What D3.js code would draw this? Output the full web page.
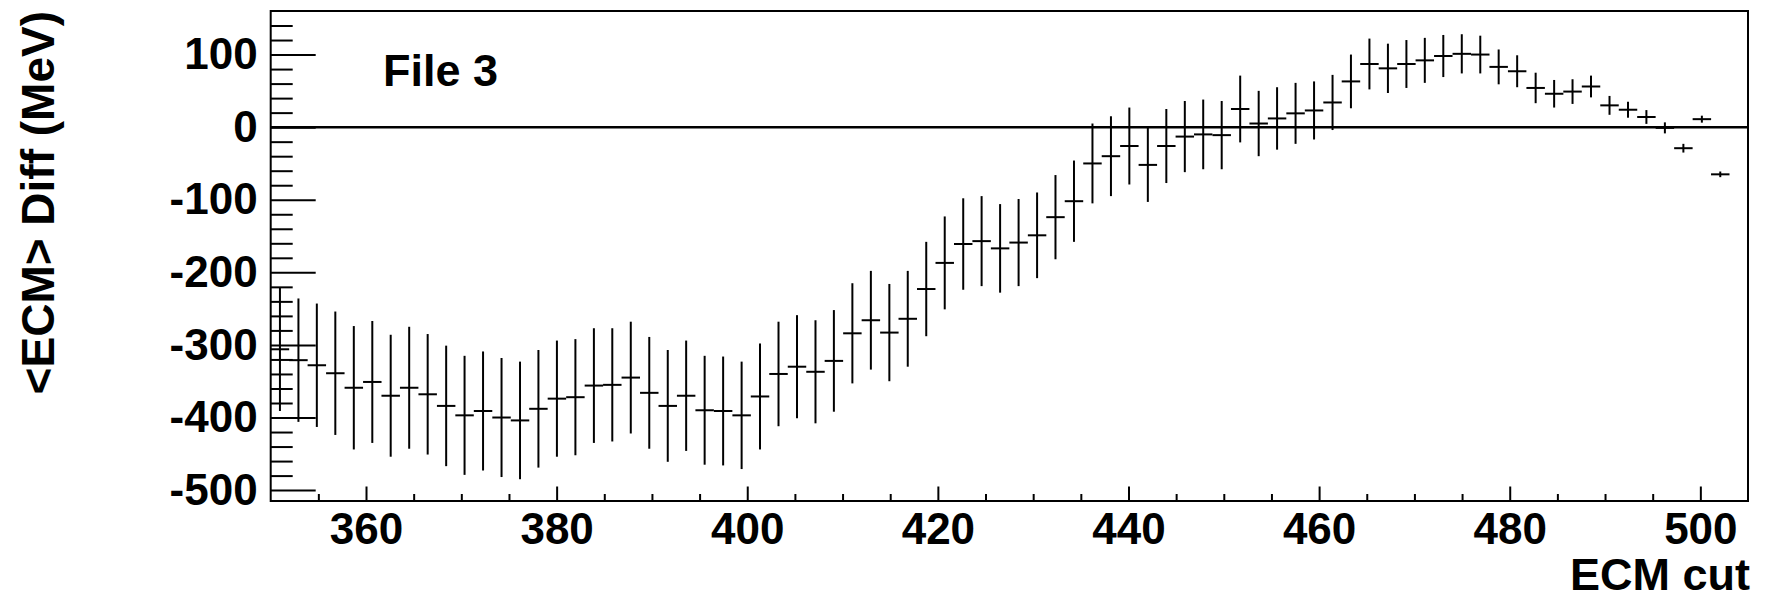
<!DOCTYPE html>
<html>
<head>
<meta charset="utf-8">
<script src="https://cdn.jsdelivr.net/npm/d3@7"></script>
<style>
  html, body { margin: 0; padding: 0; background: #fff; }
  svg { display: block; }
  text { font-family: "Liberation Sans", Arial, Helvetica, sans-serif; font-weight: bold; fill: #000; }
</style>
</head>
<body>
<svg id="chart" width="1765" height="600"></svg>
<script>
// Histogram binning: 80 bins of width 1.9375 between 350 and 505
const binWidth = 1.9375;

// Bin centres of the ECM cut (filled bins only)
const ecmCut = [
  350.97, 352.91, 354.84, 356.78, 358.72, 360.66, 362.59, 364.53, 366.47, 368.41,
  370.34, 372.28, 374.22, 376.16, 378.09, 380.03, 381.97, 383.91, 385.84, 387.78,
  389.72, 391.66, 393.59, 395.53, 397.47, 399.41, 401.34, 403.28, 405.22, 407.16,
  409.09, 411.03, 412.97, 414.91, 416.84, 418.78, 420.72, 422.66, 424.59, 426.53,
  428.47, 430.41, 432.34, 434.28, 436.22, 438.16, 440.09, 442.03, 443.97, 445.91,
  447.84, 449.78, 451.72, 453.66, 455.59, 457.53, 459.47, 461.41, 463.34, 465.28,
  467.22, 469.16, 471.09, 473.03, 474.97, 476.91, 478.84, 480.78, 482.72, 484.66,
  486.59, 488.53, 490.47, 492.41, 494.34, 496.28, 498.22, 500.16, 502.09
];

// Mean ECM difference per bin (MeV)
const meanDiff = [
  -306, -321, -328, -339, -359, -351, -370, -359, -368, -384,
  -397, -391, -400, -404, -388, -374, -372, -356, -355, -345,
  -366, -384, -370, -390, -391, -397, -371, -340, -330, -337,
  -322, -284, -266, -283, -264, -223, -187, -161, -157, -167,
  -159, -149, -124, -102, -50, -40, -26, -52, -26, -13,
  -10, -11, 25, 5, 12, 19, 23, 34, 63, 87,
  81, 87, 92, 98, 101, 100, 83, 77, 54, 46,
  49, 56, 30, 24, 14, -1, -29, 11, -65
];

// Uncertainty on the mean per bin (MeV)
const diffErr = [
  85, 85, 85, 85, 85, 84, 84, 84, 83, 83,
  82, 82, 82, 81, 81, 80, 80, 79, 78, 77,
  77, 77, 76, 75, 75, 74, 73, 72, 71, 71,
  70, 69, 68, 67, 66, 65, 64, 63, 62, 61,
  60, 59, 58, 56, 55, 55, 53, 51, 51, 49,
  48, 47, 46, 45, 43, 42, 40, 38, 37, 35,
  34, 33, 31, 29, 27, 26, 24, 22, 21, 19,
  17, 15, 13, 11, 9.5, 7.6, 6, 4.8, 3.9
];

// Axis ranges and tick values
const xRange = [350, 505];
const yRange = [-515, 160];
const xMajorTicks = [360, 380, 400, 420, 440, 460, 480, 500];
const xMinorTicks = d3.range(355, 505, 5).filter(v => !xMajorTicks.includes(v));
const yMajorTicks = [-500, -400, -300, -200, -100, 0, 100];
const yMinorTicks = d3.range(-500, 160, 20).filter(v => !yMajorTicks.includes(v));

const xTitle = "ECM cut";
const yTitle = "<ECM> Diff (MeV)";
const label = "File 3";

const frame = { left: 270.7, right: 1748, top: 11, bottom: 501 };

const svg = d3.select("#chart");
svg.append("rect").attr("width", 1765).attr("height", 600).attr("fill", "#fff");

const x = d3.scaleLinear().domain(xRange).range([frame.left, frame.right]);
const y = d3.scaleLinear().domain(yRange).range([frame.bottom, frame.top]);

// Plain hyphen for negative numbers
const fmt = d => String(d);

// Axes: ticks point into the frame
function styleAxis(g) {
  g.select(".domain").remove();
  g.selectAll(".tick line").attr("stroke", "#000").attr("stroke-width", 2);
  g.selectAll(".tick text").style("font-family", "Liberation Sans, Arial, sans-serif")
    .style("font-weight", "bold").attr("fill", "#000");
}

svg.append("g")
  .attr("transform", `translate(0,${frame.bottom})`)
  .call(d3.axisBottom(x).tickValues(xMinorTicks).tickSize(-7).tickSizeOuter(0).tickFormat(""))
  .call(styleAxis);

svg.append("g")
  .attr("transform", `translate(0,${frame.bottom})`)
  .call(d3.axisBottom(x).tickValues(xMajorTicks).tickSize(-14.5).tickSizeOuter(0).tickPadding(12).tickFormat(fmt))
  .call(styleAxis)
  .selectAll(".tick text").style("font-size", "44px");

svg.append("g")
  .attr("transform", `translate(${frame.left},0)`)
  .call(d3.axisLeft(y).tickValues(yMinorTicks).tickSize(-22).tickSizeOuter(0).tickFormat(""))
  .call(styleAxis);

svg.append("g")
  .attr("transform", `translate(${frame.left},0)`)
  .call(d3.axisLeft(y).tickValues(yMajorTicks).tickSize(-45).tickSizeOuter(0).tickPadding(13).tickFormat(fmt))
  .call(styleAxis)
  .selectAll(".tick text").style("font-size", "44px");

// Frame
svg.append("rect")
  .attr("x", frame.left).attr("y", frame.top)
  .attr("width", frame.right - frame.left).attr("height", frame.bottom - frame.top)
  .attr("fill", "none").attr("stroke", "#000").attr("stroke-width", 2);

// Zero reference line
svg.append("line")
  .attr("x1", frame.left).attr("x2", frame.right)
  .attr("y1", y(0)).attr("y2", y(0))
  .attr("stroke", "#000").attr("stroke-width", 2.5);

// Data points with error bars
const points = ecmCut.map((c, i) => ({ c, v: meanDiff[i], e: diffErr[i] }));
const pts = svg.append("g").attr("stroke", "#000").attr("stroke-width", 2);

pts.selectAll("line.err").data(points).join("line")
  .attr("class", "err")
  .attr("x1", d => x(d.c)).attr("x2", d => x(d.c))
  .attr("y1", d => y(d.v + d.e)).attr("y2", d => y(d.v - d.e));

pts.selectAll("line.bin").data(points).join("line")
  .attr("class", "bin")
  .attr("x1", d => x(d.c - binWidth / 2)).attr("x2", d => x(d.c + binWidth / 2))
  .attr("y1", d => y(d.v)).attr("y2", d => y(d.v));

// Titles
svg.append("text")
  .attr("x", 1750).attr("y", 590)
  .attr("text-anchor", "end")
  .style("font-size", "45px")
  .text(xTitle);

svg.append("text")
  .attr("transform", `translate(54,${frame.top}) rotate(-90)`)
  .attr("text-anchor", "end")
  .style("font-size", "46px")
  .text(yTitle);

svg.append("text")
  .attr("x", 383).attr("y", 86)
  .style("font-size", "45px")
  .text(label);
</script>
</body>
</html>
